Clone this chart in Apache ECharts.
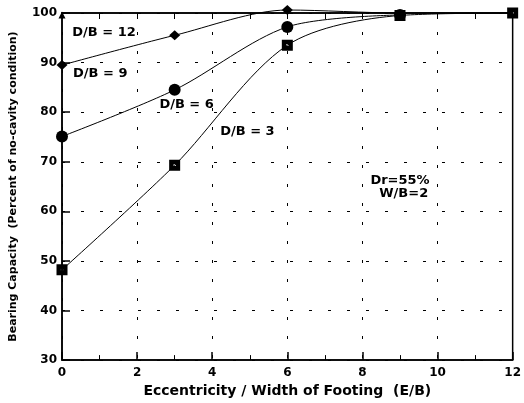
<!DOCTYPE html>
<html><head><meta charset="utf-8">
<script src="https://cdn.jsdelivr.net/npm/echarts@6/dist/echarts.min.js"></script>
<style>html,body{margin:0;padding:0;background:#fff}#c{width:524px;height:403px}</style>
</head><body><div id="c"></div>
<script>
// Data
const xTicks = [0, 2, 4, 6, 8, 10, 12];
const yTicks = [30, 40, 50, 60, 70, 80, 90, 100];
const db12X = [0, 3, 6, 9, 12];
const db12Y = [89.5, 95.5, 100.6, 100, 100];
const db9X = [0, 3, 6, 9];
const db9Y = [75.1, 84.5, 97.2, 99.6];
const db3X = [0, 3, 6, 9, 12];
const db3Y = [48.2, 69.3, 93.5, 99.5, 100];
const labelText = ['D/B = 12', 'D/B = 9', 'D/B = 6', 'D/B = 3'];
const labelX = [0.26, 0.28, 2.58, 4.2];
const labelY = [96.0, 87.8, 81.6, 76.1];
const noteText = ['Dr=55%', 'W/B=2'];
const noteX = [9.0, 9.1];
const noteY = [66.2, 63.6];

const FONT = 'DejaVu Sans, sans-serif';
const pair = (xs, ys) => xs.map((x, i) => [x, ys[i]]);
const squareWithDot = 'path://M0,0H10V10H0Z M4,4V5.6H6V4Z';

const chart = echarts.init(document.getElementById('c'), null, {renderer: 'canvas'});
const textStyle = {fontFamily: FONT, fontWeight: 'bold', fontSize: 13, color: '#000', opacity: 1};
chart.setOption({
  animation: false,
  backgroundColor: '#fff',
  grid: {left: 58, right: 8, top: 13, bottom: 37, show: true, borderColor: '#000', borderWidth: 1.5},
  xAxis: [{
    type: 'value', min: xTicks[0], max: xTicks[xTicks.length - 1], interval: 2,
    name: 'Eccentricity / Width of Footing  (E/B)', nameLocation: 'middle', nameGap: 20,
    nameTextStyle: {fontFamily: FONT, fontWeight: 'bold', fontSize: 14, color: '#000'},
    axisLine: {lineStyle: {color: '#000', width: 1.5}},
    axisTick: {inside: true, length: 8, lineStyle: {color: '#000', width: 1.5}},
    minorTick: {show: true, splitNumber: 2, length: 5, lineStyle: {color: '#000'}},
    axisLabel: {fontFamily: FONT, fontWeight: 'bold', fontSize: 12, color: '#000', margin: 7},
    splitLine: {show: true, lineStyle: {color: '#000', type: [3, 16], width: 1}}
  }, {
    type: 'value', position: 'top', min: xTicks[0], max: xTicks[xTicks.length - 1], interval: 1,
    axisLine: {show: true, lineStyle: {color: '#000', width: 1.5}},
    axisTick: {inside: true, length: 6, lineStyle: {color: '#000', width: 1}},
    axisLabel: {show: false}, splitLine: {show: false}
  }],
  yAxis: {
    type: 'value', min: yTicks[0], max: yTicks[yTicks.length - 1], interval: 10,
    name: 'Bearing Capacity  (Percent of no-cavity condition)', nameLocation: 'middle', nameGap: 43,
    nameTextStyle: {fontFamily: FONT, fontWeight: 'bold', fontSize: 11, color: '#000'},
    axisLine: {lineStyle: {color: '#000', width: 1.5}, symbol: ['none', 'triangle'], symbolSize: [7, 7], symbolOffset: [0, -2]},
    axisTick: {inside: true, length: 8, lineStyle: {color: '#000', width: 1.5}},
    axisLabel: {fontFamily: FONT, fontWeight: 'bold', fontSize: 12, color: '#000', margin: 5},
    splitLine: {show: true, lineStyle: {color: '#000', type: [3, 16], width: 1}}
  },
  series: [
    {
      type: 'line', smooth: 0.3, z: 3, clip: false,
      data: pair(db12X, db12Y).map((p, i) => ({value: p, symbol: i < 3 ? 'diamond' : 'none'})),
      symbolSize: [11, 10], itemStyle: {color: '#000'}, lineStyle: {color: '#000', width: 1}
    },
    {
      type: 'line', smooth: 0.3, z: 4, clip: false,
      data: pair(db3X, db3Y), symbol: squareWithDot, symbolSize: 11,
      itemStyle: {color: '#000'}, lineStyle: {color: '#000', width: 1}
    },
    {
      type: 'line', smooth: 0.3, z: 5, clip: false,
      data: pair(db9X, db9Y), symbol: 'circle', symbolSize: 12,
      itemStyle: {color: '#000'}, lineStyle: {color: '#000', width: 1}
    },
    {
      type: 'scatter', z: 6, symbolSize: 1, silent: true, itemStyle: {color: 'rgba(0,0,0,0)'},
      data: pair(labelX, labelY).map((p, i) => ({value: p, label: {formatter: labelText[i]}})),
      label: Object.assign({show: true, position: 'right', distance: 0}, textStyle),
      emphasis: {disabled: true}
    },
    {
      type: 'scatter', z: 6, symbolSize: 1, silent: true, itemStyle: {color: 'rgba(0,0,0,0)'},
      data: pair(noteX, noteY).map((p, i) => ({value: p, label: {formatter: noteText[i]}})),
      label: Object.assign({show: true, position: 'inside'}, textStyle),
      emphasis: {disabled: true}
    }
  ]
});
</script></body></html>
